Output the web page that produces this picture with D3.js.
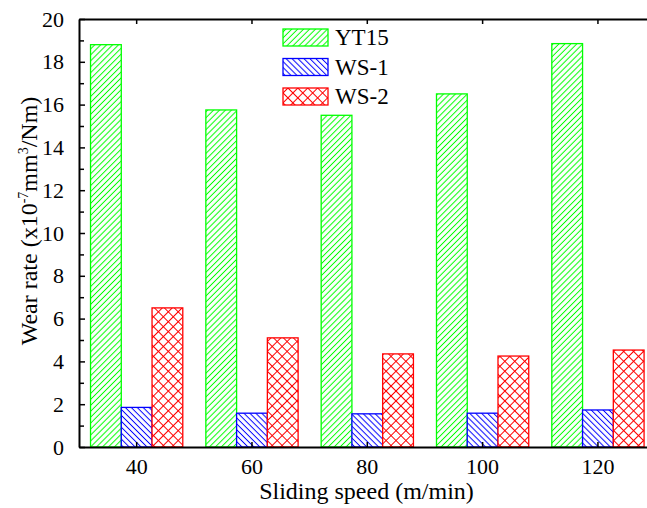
<!DOCTYPE html>
<html>
<head>
<meta charset="utf-8">
<script src="https://cdn.jsdelivr.net/npm/d3@7"></script>
<style>
  body { margin: 0; background: #fff; }
  svg { display: block; font-family: "Liberation Serif", "Times New Roman", serif; }
</style>
</head>
<body>
<div id="chart"></div>
<script>
// wear rate vs sliding speed, three tool materials
const speeds = ["40", "60", "80", "100", "120"];
const seriesNames = ["YT15", "WS-1", "WS-2"];
const yt15 = [18.8, 15.75, 15.5, 16.5, 18.85];
const ws1 = [1.85, 1.58, 1.55, 1.58, 1.73];
const ws2 = [6.5, 5.1, 4.35, 4.25, 4.53];
const yTicks = [0, 2, 4, 6, 8, 10, 12, 14, 16, 18, 20];

const colors = { "YT15": "#00ff00", "WS-1": "#0000ff", "WS-2": "#ff0000" };
const patternIds = { "YT15": "hatch-fwd", "WS-1": "hatch-back", "WS-2": "hatch-cross" };

const width = 647, height = 508;
const plotLeft = 79, plotTop = 19, plotBottom = 447, plotRight = 655.6;

const svg = d3.select("#chart").append("svg")
  .attr("width", width)
  .attr("height", height);

// patterns: vertical lines in a rotated tile
const defs = svg.append("defs");
function hatch(id, color, size, angles) {
  angles.forEach((a, k) => {
    const p = defs.append("pattern")
      .attr("id", k === 0 ? id : id + "-" + k)
      .attr("patternUnits", "userSpaceOnUse")
      .attr("width", size).attr("height", size)
      .attr("patternTransform", `rotate(${a})`);
    p.append("line")
      .attr("x1", size / 2).attr("x2", size / 2)
      .attr("y1", 0).attr("y2", size)
      .attr("stroke", color)
      .attr("stroke-width", 1);
  });
}
hatch("hatch-fwd", colors["YT15"], 4.2, [45]);
hatch("hatch-back", colors["WS-1"], 4.2, [-45]);
hatch("hatch-cross", colors["WS-2"], 7, [45, -45]);

const x = d3.scaleBand()
  .domain(speeds)
  .range([plotLeft, plotRight])
  .paddingInner(0.2)
  .paddingOuter(0.1);

const xSub = d3.scaleBand()
  .domain(seriesNames)
  .range([0, x.bandwidth()]);

const y = d3.scaleLinear()
  .domain([0, 20])
  .range([plotBottom, plotTop]);

const table = seriesNames.map((name, i) => ({
  name: name,
  values: [yt15, ws1, ws2][i]
}));

// draw a hatched rectangle: white base, pattern layers, coloured outline
function hatchedRect(sel, id) {
  sel.append("rect").attr("class", "base").attr("fill", "#fff");
  sel.append("rect").attr("class", "layer").attr("fill", `url(#${id})`);
  if (id === "hatch-cross")
    sel.append("rect").attr("class", "layer").attr("fill", `url(#${id}-1)`);
}

// bars
const bars = svg.append("g").selectAll("g")
  .data(table)
  .join("g")
  .selectAll("g")
  .data(s => s.values.map((v, j) => ({ name: s.name, speed: speeds[j], value: v })))
  .join("g");

bars.each(function(d) { hatchedRect(d3.select(this), patternIds[d.name]); });
bars.append("rect").attr("class", "outline")
  .attr("fill", "none")
  .attr("stroke", d => colors[d.name])
  .attr("stroke-width", 1.3);
bars.selectAll("rect")
  .attr("x", d => x(d.speed) + xSub(d.name))
  .attr("y", d => y(d.value))
  .attr("width", xSub.bandwidth())
  .attr("height", d => y(0) - y(d.value));

// axes
const xAxis = d3.axisBottom(x)
  .tickSizeInner(-5)
  .tickSizeOuter(0)
  .tickPadding(11);

const gx = svg.append("g")
  .attr("transform", `translate(0,${plotBottom})`)
  .call(xAxis);
gx.select(".domain").attr("stroke-width", 2);
gx.selectAll(".tick line").attr("stroke-width", 1.5);
gx.selectAll("text")
  .attr("font-size", 22)
  .attr("font-family", "Liberation Serif")
  .attr("fill", "#000");

const xTop = svg.append("g")
  .attr("transform", `translate(0,${plotTop})`)
  .call(d3.axisTop(x).tickSizeInner(-5).tickSizeOuter(0).tickFormat(""));
xTop.select(".domain").attr("stroke-width", 2);
xTop.selectAll(".tick line").attr("stroke-width", 1.5);

const yAxis = d3.axisLeft(y)
  .tickValues(yTicks)
  .tickSizeInner(-6)
  .tickSizeOuter(0)
  .tickPadding(15);

const gy = svg.append("g")
  .attr("transform", `translate(${plotLeft},0)`)
  .call(yAxis);
gy.select(".domain").attr("stroke-width", 2);
gy.selectAll(".tick line").attr("stroke-width", 1.5);
gy.selectAll("text")
  .attr("font-size", 22)
  .attr("font-family", "Liberation Serif")
  .attr("fill", "#000");

// minor ticks on y
svg.append("g")
  .attr("transform", `translate(${plotLeft},0)`)
  .call(d3.axisLeft(y)
    .tickValues(d3.range(1, 20, 2))
    .tickSizeInner(-5)
    .tickSizeOuter(0)
    .tickFormat(""))
  .call(g => g.select(".domain").remove())
  .selectAll(".tick line").attr("stroke-width", 1.5);

// axis titles
svg.append("text")
  .attr("x", (plotLeft + 655) / 2 - 0.5)
  .attr("y", 499)
  .attr("text-anchor", "middle")
  .attr("font-size", 24)
  .text("Sliding speed (m/min)");

const yTitle = svg.append("text")
  .attr("transform", `translate(37,${(plotTop + plotBottom) / 2 - 12}) rotate(-90)`)
  .attr("text-anchor", "middle")
  .attr("font-size", 24);
yTitle.append("tspan").text("Wear rate (x10");
yTitle.append("tspan").attr("font-size", 14).attr("dy", -9).text("-7");
yTitle.append("tspan").attr("dy", 9).text("mm");
yTitle.append("tspan").attr("font-size", 14).attr("dy", -9).text("3");
yTitle.append("tspan").attr("dy", 9).text("/Nm)");

// legend
const legend = svg.append("g")
  .attr("transform", "translate(283,29)");

const item = legend.selectAll("g")
  .data(seriesNames)
  .join("g")
  .attr("transform", (d, i) => `translate(0,${i * 29.5})`);

item.each(function(d) { hatchedRect(d3.select(this), patternIds[d]); });
item.append("rect").attr("class", "outline")
  .attr("fill", "none")
  .attr("stroke", d => colors[d])
  .attr("stroke-width", 1.3);
item.selectAll("rect")
  .attr("width", 45)
  .attr("height", 17);

item.append("text")
  .attr("x", 52)
  .attr("y", 16)
  .attr("font-size", 23)
  .text(d => d);
</script>
</body>
</html>
